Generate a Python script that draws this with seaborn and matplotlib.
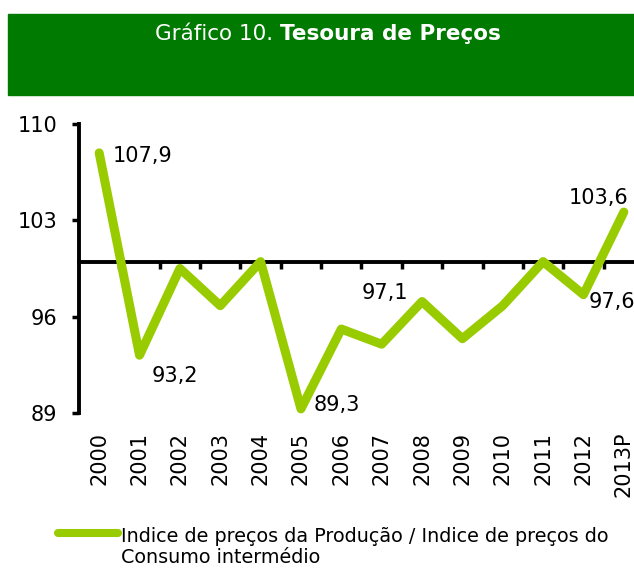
import numpy as np
import pandas as pd
import matplotlib
matplotlib.use("Agg")
import matplotlib.pyplot as plt
from matplotlib.patches import Rectangle
from matplotlib.lines import Line2D
import seaborn as sns

# dados do gráfico
anos = ['2000', '2001', '2002', '2003', '2004', '2005', '2006',
        '2007', '2008', '2009', '2010', '2011', '2012', '2013P']
valores = [107.9, 93.2, 99.5, 96.8, 100.0, 89.3, 95.1,
           94.0, 97.1, 94.4, 96.8, 100.0, 97.6, 103.6]
anos_rotulados = ['2000', '2001', '2005', '2008', '2012', '2013P']
y_ticks = [89, 96, 103, 110]
serie = 'Indice de preços da Produção / Indice de preços do'
serie_2 = 'Consumo intermédio'

verde = '#99CC00'
fundo_titulo = '#007A00'

sns.set_style('white')
plt.rcParams['font.family'] = ['DejaVu Sans']
plt.rcParams['text.color'] = 'black'
plt.rcParams['xtick.color'] = 'black'
plt.rcParams['ytick.color'] = 'black'
plt.rcParams['axes.labelcolor'] = 'black'

df = pd.DataFrame({'pos': np.arange(len(anos)), 'valor': valores})

fig = plt.figure(figsize=(6.34, 5.68), dpi=100)
ax = fig.add_axes([79 / 634, 155 / 568, 565 / 634, 289 / 568])

sns.lineplot(data=df, x='pos', y='valor', ax=ax, color=verde, lw=6.5,
             solid_capstyle='round', solid_joinstyle='round', clip_on=False)

ax.set_xlim(-0.5, len(anos) - 0.5)
ax.set_ylim(89, 110)
ax.set_xlabel('')
ax.set_ylabel('')

# eixo y
ax.set_yticks(y_ticks)
ax.tick_params(axis='y', direction='out', length=5, width=2.5, pad=10.5,
               labelsize=15, left=True, colors='black')
for s in ['top', 'right', 'bottom']:
    ax.spines[s].set_visible(False)
ax.spines['left'].set_linewidth(2.8)
ax.spines['left'].set_color('black')

# anos em baixo
ax.set_xticks(df['pos'], labels=anos)
ax.tick_params(axis='x', length=0, pad=13.5, labelsize=15, labelrotation=90,
               labelcolor='black')

# linha horizontal em 100 com marcas entre categorias
sec = ax.secondary_xaxis(100, transform=ax.transData)
sec.set_alignment('bottom')
sec.set_xticks(np.arange(len(anos) - 1) + 0.5, labels=[])
sec.tick_params(axis='x', direction='out', length=5, width=2.5, color='black')
sec.spines['bottom'].set_linewidth(2.8)
sec.spines['bottom'].set_color('black')
sec.spines['top'].set_visible(False)

# rótulos de valores
desloc = {'2000': (10, -2, 'left'), '2001': (8.6, -15, 'left'),
          '2005': (9.4, 2.5, 'left'), '2008': (-10, 6.5, 'right'),
          '2012': (3.6, -5, 'left'), '2013P': (3, 10, 'right')}
for ano in anos_rotulados:
    i = anos.index(ano)
    dx, dy, ha = desloc[ano]
    ax.annotate(f'{valores[i]:.1f}'.replace('.', ','), xy=(i, valores[i]),
                xytext=(dx, dy), textcoords='offset points', color='black',
                ha=ha, va='center', fontsize=15, annotation_clip=False)

# faixa do título
fig.add_artist(Rectangle((8 / 634, (568 - 95) / 568), 1, 81 / 568,
                         transform=fig.transFigure, color=fundo_titulo, zorder=0))
r = fig.canvas.get_renderer()
t1 = fig.text(0, 0.94, 'Gráfico 10. ', color='white', fontsize=15.5, va='center')
t2 = fig.text(0, 0.94, 'Tesoura de Preços', color='white', fontsize=15.5,
              fontweight='bold', va='center')
w1 = t1.get_window_extent(r).width
w2 = t2.get_window_extent(r).width
x0 = 328 - (w1 + w2) / 2
t1.set_x(x0 / 634)
t2.set_x((x0 + w1) / 634)

# legenda
fig.add_artist(Line2D([58 / 634, 118 / 634], [35 / 568, 35 / 568],
                      transform=fig.transFigure, color=verde, lw=5.8,
                      solid_capstyle='round'))
fig.text(121 / 634, 26 / 568, serie, fontsize=13.8, va='baseline')
fig.text(121 / 634, 5 / 568, serie_2, fontsize=13.8, va='baseline')

fig.savefig('out.png', dpi=100)
